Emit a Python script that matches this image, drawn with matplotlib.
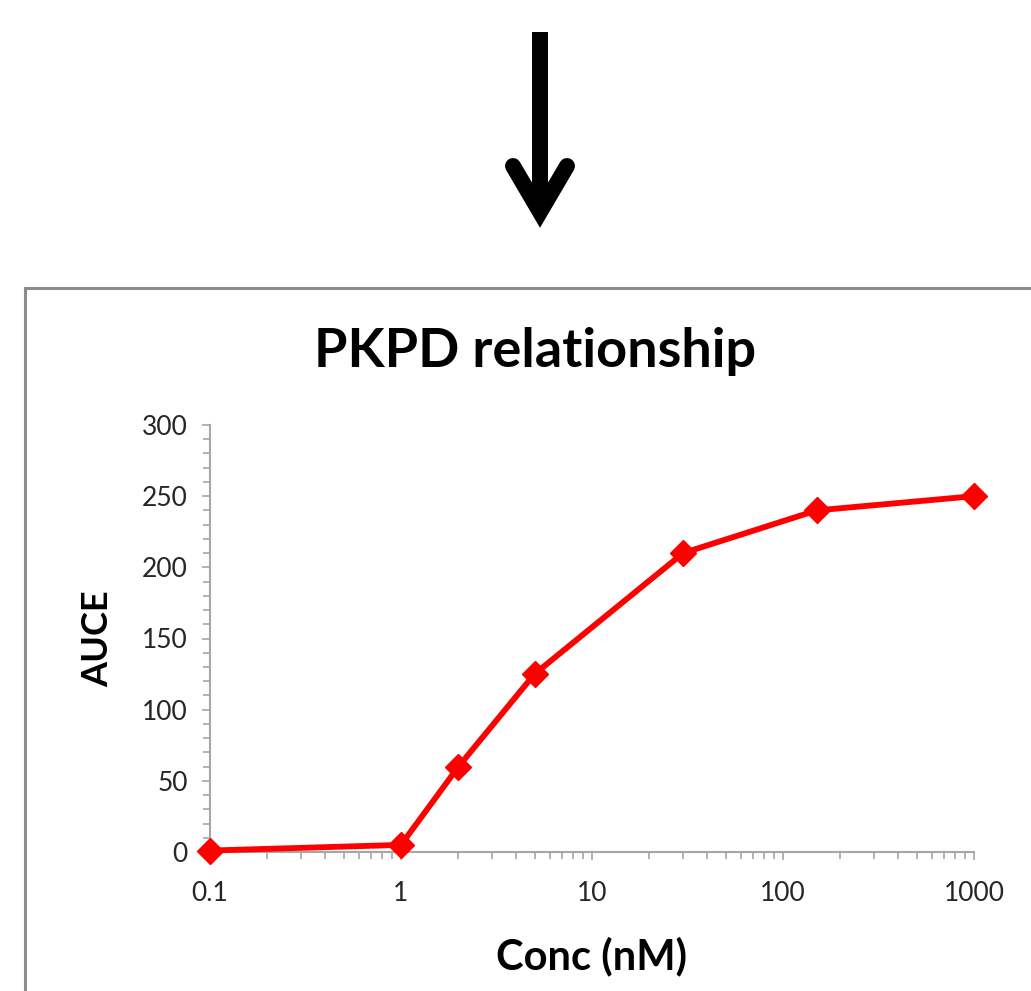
import matplotlib
matplotlib.use('Agg')
import matplotlib.pyplot as plt
from matplotlib.lines import Line2D
from matplotlib.patches import Rectangle
from matplotlib.ticker import LogLocator, NullFormatter, MultipleLocator

plt.rcParams['font.family'] = ['Lato', 'DejaVu Sans']

# data
conc = [0.1, 1, 2, 5, 30, 150, 1000]
auce = [1, 5, 60, 125, 210, 240, 250]
xticks = [0.1, 1, 10, 100, 1000]
xlabels = ['0.1', '1', '10', '100', '1000']

W, H = 1031, 991
fig = plt.figure(figsize=(W / 100, H / 100), dpi=100)

def fx(px):
    return px / W

def fy(py):
    return 1 - py / H

# arrow at the top
fig.add_artist(Line2D([fx(540), fx(540)], [fy(32), fy(205)], lw=11.5, color='black',
                      solid_capstyle='butt'))
fig.add_artist(Line2D([fx(513), fx(540), fx(567)], [fy(166), fy(212), fy(166)], lw=11.5,
                      color='black', solid_capstyle='round', solid_joinstyle='miter'))

# chart box
fig.add_artist(Rectangle((fx(25), -0.05), 1.2, fy(288) + 0.05, fill=False,
                         edgecolor='#8c8c8c', lw=2.2))

ax = fig.add_axes([fx(210), fy(852), fx(974) - fx(210), fy(425) - fy(852)])
ax.plot(conc, auce, color='#ff0000', lw=4.2, marker='D', markersize=13.5, clip_on=False, zorder=5)

ax.set_xscale('log')
ax.set_xlim(0.1, 1000)
ax.set_ylim(0, 300)
ax.set_xticks(xticks)
ax.set_xticklabels(xlabels)
ax.xaxis.set_minor_locator(LogLocator(base=10, subs=range(2, 10)))
ax.xaxis.set_minor_formatter(NullFormatter())
ax.yaxis.set_major_locator(MultipleLocator(50))
ax.yaxis.set_minor_locator(MultipleLocator(10))

for s in ['top', 'right']:
    ax.spines[s].set_visible(False)
for s in ['left', 'bottom']:
    ax.spines[s].set_color('#a6a6a6')
    ax.spines[s].set_linewidth(1.5)

ax.tick_params(which='both', direction='out', color='#a6a6a6', width=1.2, labelsize=19,
               labelcolor='#262626')
ax.tick_params(which='major', length=6)
ax.tick_params(which='minor', length=5)
ax.tick_params(axis='x', pad=15)
ax.tick_params(axis='y', pad=10)

ax.set_xlabel('Conc (nM)', fontsize=30, fontweight='bold', labelpad=22)
ax.set_ylabel('AUCE', fontsize=26, fontweight='bold', labelpad=20)
fig.text(fx(535), fy(352), 'PKPD relationship', fontsize=39, fontweight='bold',
         ha='center', va='center')

fig.savefig('out.png', dpi=100)
